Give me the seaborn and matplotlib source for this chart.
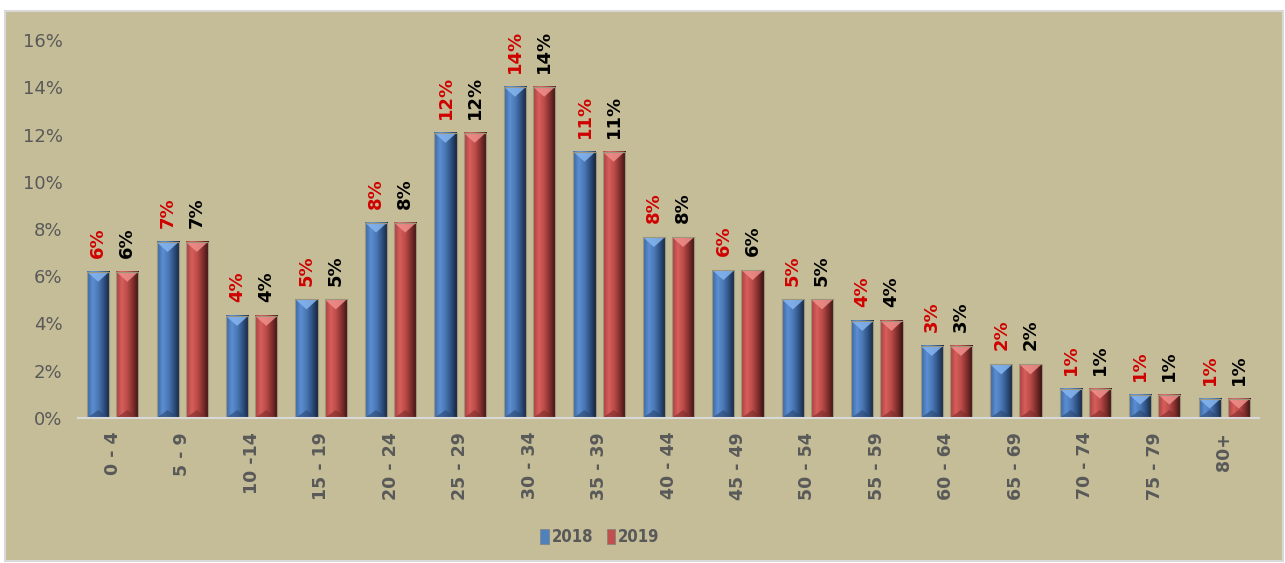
import numpy as np
import pandas as pd
import matplotlib
matplotlib.use('Agg')
import matplotlib.pyplot as plt
import seaborn as sns
from matplotlib.colors import LinearSegmentedColormap
from matplotlib.patches import Rectangle, Polygon, Patch
from matplotlib.ticker import PercentFormatter, MultipleLocator

# data (percent of population by age group)
age_groups = ['0 - 4', '5 - 9', '10 -14', '15 - 19', '20 - 24', '25 - 29', '30 - 34',
              '35 - 39', '40 - 44', '45 - 49', '50 - 54', '55 - 59', '60 - 64',
              '65 - 69', '70 - 74', '75 - 79', '80+']
share_2018 = [6.19, 7.45, 4.32, 5.02, 8.27, 12.07, 14.02, 11.27, 7.66, 6.26,
              5.02, 4.11, 3.05, 2.27, 1.24, 0.99, 0.82]
share_2019 = [6.19, 7.45, 4.32, 5.02, 8.27, 12.07, 14.02, 11.27, 7.66, 6.26,
              5.02, 4.11, 3.05, 2.27, 1.24, 0.99, 0.82]
years = ['2018', '2019']

bar_colors = {'2018': '#4F81BD', '2019': '#C0504D'}
label_colors = {'2018': '#D00000', '2019': '#000000'}
# left -> right shading for the bevelled look
shades = {
    '2018': ['#3C67A0', '#5C8ED2', '#4A78B5', '#2E5080', '#17263D'],
    '2019': ['#A6413F', '#D75E5B', '#BB4B48', '#7E2E2C', '#3A1312'],
}
top_colors = {'2018': '#86B6F0', '2019': '#F0908C'}
bottom_colors = {'2018': '#2A4770', '2019': '#7A2C2A'}

df = pd.DataFrame({
    'age': age_groups * 2,
    'year': [years[0]] * len(age_groups) + [years[1]] * len(age_groups),
    'share': share_2018 + share_2019,
})

sns.set_style('white')
plt.rcParams['font.family'] = ['DejaVu Sans']

W, H = 1285, 563
fig = plt.figure(figsize=(W / 100, H / 100), dpi=100)
fig.patch.set_facecolor('white')
# tan chart panel (behind the axes)
fig.patches.append(Rectangle((5 / W, 2 / H), 1278 / W, 550 / H, transform=fig.transFigure,
                             facecolor='#C4BD97', edgecolor='#D9D9D9', lw=1.5, zorder=-1))

ax = fig.add_axes([78 / W, 145 / H, 1181 / W, 378 / H])
ax.set_facecolor('none')

sns.barplot(data=df, x='age', y='share', hue='year', order=age_groups, hue_order=years,
            palette=bar_colors, saturation=1, width=0.84, gap=0.24, legend=False,
            errorbar=None, ax=ax)

ax.set_xlim(-0.5, len(age_groups) - 0.5)
ax.set_ylim(0, 16)

# pixel scale to size the bevel triangles
p0, p1 = ax.transData.transform([(0, 0), (1, 1)])
px_x, px_y = p1 - p0

for year, cont in zip(years, ax.containers):
    cmap = LinearSegmentedColormap.from_list(year, shades[year])
    grad = cmap(np.linspace(0, 1, 64))[np.newaxis, :, :3]
    for bar in cont:
        x0, w, h = bar.get_x(), bar.get_width(), bar.get_height()
        ax.imshow(grad, extent=[x0, x0 + w, 0, h], aspect='auto',
                  interpolation='bilinear', zorder=2)
        d = w * px_x * 0.45 / px_y
        ax.add_patch(Polygon([(x0, h), (x0 + w, h), (x0 + w / 2, h - d)],
                             facecolor=top_colors[year], alpha=0.85, lw=0, zorder=3))
        ax.add_patch(Polygon([(x0, 0), (x0 + w, 0), (x0 + w / 2, d * 0.8)],
                             facecolor=bottom_colors[year], alpha=0.6, lw=0, zorder=3))
        bar.set_facecolor('none')
        bar.set_edgecolor('#9C967C')
        bar.set_linewidth(0.8)
        bar.set_zorder(4)

for year, vals, cont in zip(years, [share_2018, share_2019], ax.containers):
    ax.bar_label(cont, labels=[f'{v:.0f}%' for v in vals], rotation=90, padding=10,
                 color=label_colors[year], fontsize=13, fontweight='bold')

ax.set_xlim(-0.5, len(age_groups) - 0.5)
ax.set_ylim(0, 16)
ax.set_xlabel('')
ax.set_ylabel('')
ax.yaxis.set_major_locator(MultipleLocator(2))
ax.yaxis.set_major_formatter(PercentFormatter(100, decimals=0))
ax.tick_params(axis='y', length=0, pad=11, labelsize=13, labelcolor='#595959')
ax.tick_params(axis='x', length=0, pad=10, labelsize=12.5, labelcolor='#595959',
               labelrotation=90)
for lbl in ax.get_xticklabels():
    lbl.set_fontweight('bold')

for side in ['top', 'right', 'left']:
    ax.spines[side].set_visible(False)
ax.spines['bottom'].set_color('#D9D9D9')
ax.spines['bottom'].set_linewidth(1.5)
ax.spines['bottom'].set_zorder(5)

handles = [Patch(facecolor=bar_colors[y], edgecolor='#7F7F7F', lw=0.5) for y in years]
fig.legend(handles, years, loc='center', bbox_to_anchor=(600 / W, 26 / H), ncol=2,
           frameon=False, handlelength=0.5, handleheight=1.0, handletextpad=0.2,
           columnspacing=0.8, labelcolor='#595959',
           prop={'family': ['DejaVu Sans'], 'stretch': 'condensed',
                 'weight': 'bold', 'size': 12})

fig.savefig('out.png', dpi=100)
